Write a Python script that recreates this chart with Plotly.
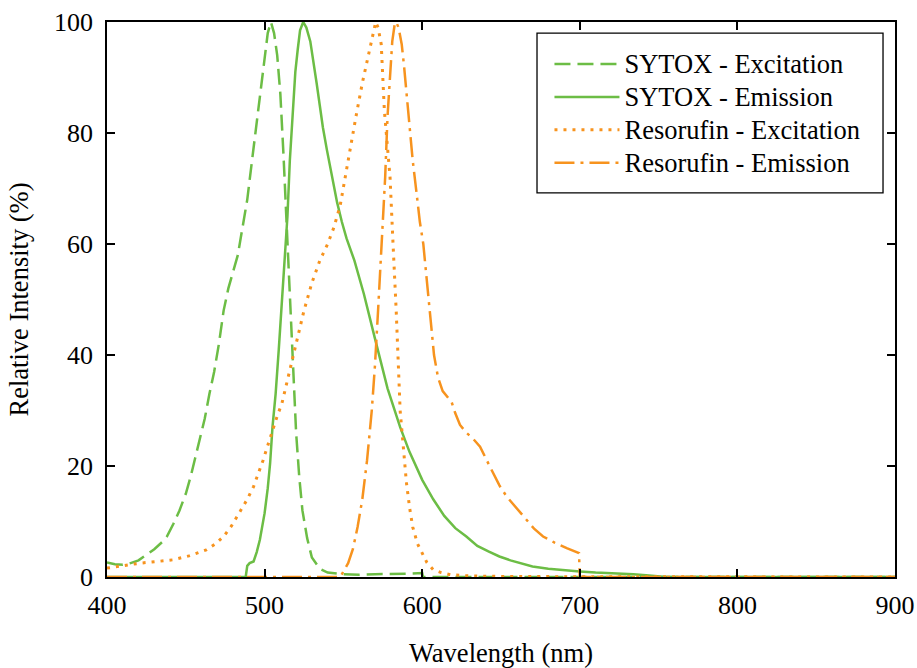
import plotly.graph_objects as go

# ---- data ----
sytox_exc_x = [400, 405, 410, 415, 420, 425, 430, 435, 438, 442, 446, 450, 453, 456, 459, 462, 465, 468, 471, 474, 477, 480, 483, 486, 489, 492, 495, 498, 500, 502, 504, 506, 508, 510, 512, 514, 516, 518, 520, 522, 524, 527, 530, 535, 540, 550, 560, 570, 580, 590, 600, 600.5, 900]
sytox_exc_y = [2.6, 2.3, 2.2, 2.5, 3.0, 4.0, 5.0, 6.3, 7.3, 9.5, 12, 15, 18, 21.5, 25, 28.5, 33, 37, 42, 48, 52, 55, 58, 63, 68, 75, 82, 89, 94, 98, 100, 98, 94, 87, 76, 63, 50, 37, 26, 18, 12, 7, 3.5, 1.5, 0.8, 0.5, 0.4, 0.5, 0.5, 0.6, 0.7, 0, 0]

sytox_em_x = [400, 488, 489, 490.5, 493, 495, 497, 499, 500, 502, 503.5, 505, 507, 509, 511, 513, 514.5, 516, 518, 519.5, 521, 522.5, 524.5, 526.5, 529, 531, 533, 535, 537, 539.5, 541.5, 543.5, 546, 549, 552, 557, 563, 570, 578, 586, 592, 600, 607, 614, 621, 628, 635, 642, 649, 656, 663, 670, 680, 690, 700, 710, 720, 734, 742, 750, 755, 900]
sytox_em_y = [0, 0, 2, 2.5, 2.8, 4.5, 6.7, 9.5, 11.5, 16, 20.5, 27, 33, 41, 50, 58, 65, 75, 85, 91, 95, 98.5, 100, 99, 96.5, 93, 89, 85, 81, 77, 74, 71, 67.5, 64, 61, 57, 51, 43, 34, 27, 22.5, 17.5, 14, 11, 8.8, 7.3, 5.6, 4.6, 3.7, 3.0, 2.4, 1.9, 1.5, 1.2, 1.0, 0.8, 0.7, 0.5, 0.3, 0.1, 0, 0]

reso_exc_x = [400, 410, 421, 432, 442, 452, 463, 469, 474, 479, 484, 489, 493, 496, 499, 502, 505, 508, 511, 515, 520, 525, 530, 535, 540, 544, 548, 551, 554, 558, 562, 566, 569, 570.5, 572, 574, 576, 578, 579.6, 581.5, 583.5, 586, 588, 590, 592, 594, 597, 600, 603, 607, 612, 618, 630, 650, 700, 900]
reso_exc_y = [1.6, 2.0, 2.5, 2.8, 3.1, 3.8, 4.9, 6.0, 7.3, 9.2, 11.5, 14, 16.3, 18.5, 21, 23.7, 26.5, 29, 31.3, 36, 42, 48, 53, 57, 60, 63, 67, 72, 77, 83, 89, 94, 98, 100, 99, 96, 84, 77, 72, 60, 48, 30, 23, 17, 12.5, 9, 6, 4.3, 2.6, 1.3, 0.8, 0.4, 0.2, 0.1, 0.05, 0]

reso_em_x = [400, 548, 550, 553, 556, 559, 562, 565, 568, 570, 572, 573.5, 575, 576.5, 578, 579.5, 581, 582.5, 583.5, 585, 587, 588.5, 590, 592, 594, 596.5, 598.5, 600.7, 602, 603.7, 605.5, 607.5, 610, 613, 618.7, 621, 624, 628, 632, 636.7, 641, 645, 649, 653.6, 660, 666, 671, 676.7, 684, 691.7, 695, 699.5, 700, 900]
reso_em_y = [0, 0, 1, 2.5, 5, 9, 14, 21, 30, 38, 48, 56, 64, 72, 83, 91, 96.5, 99.5, 100, 99, 96, 92, 87, 81, 75, 69, 64, 60, 56, 51, 45, 40, 36, 33.5, 31.5, 29.5, 27.4, 26, 25, 23.5, 21, 18.7, 16.5, 14.5, 12.3, 10.3, 8.7, 7.3, 6.2, 5.2, 4.8, 4.3, 0, 0]

series_names = ["SYTOX - Excitation", "SYTOX - Emission", "Resorufin - Excitation", "Resorufin - Emission"]
x_ticks = [400, 500, 600, 700, 800, 900]
y_ticks = [0, 20, 40, 60, 80, 100]

GREEN = "#6cbd45"
ORANGE = "#f7931e"
FONT = "Liberation Serif"
FS = 26


def leg(name):
    return '<span style="font-size:26.5px">' + name + '</span>'


fig = go.Figure()
fig.add_trace(go.Scatter(x=sytox_exc_x, y=sytox_exc_y, mode="lines", name=leg(series_names[0]),
                         line=dict(color=GREEN, width=2.5, dash="16px,7px")))
fig.add_trace(go.Scatter(x=sytox_em_x, y=sytox_em_y, mode="lines", name=leg(series_names[1]),
                         line=dict(color=GREEN, width=2.5)))
fig.add_trace(go.Scatter(x=reso_exc_x, y=reso_exc_y, mode="lines", name=leg(series_names[2]),
                         line=dict(color=ORANGE, width=3, dash="3px,6px")))
fig.add_trace(go.Scatter(x=reso_em_x, y=reso_em_y, mode="lines", name=leg(series_names[3]),
                         line=dict(color=ORANGE, width=2.5, dash="20px,6px,3px,6px")))

axis_common = dict(showgrid=False, zeroline=False, showline=True, linecolor="black", linewidth=1.5,
                   mirror="ticks", ticks="inside", ticklen=8, tickwidth=1.5, tickcolor="black",
                   automargin=False,
                   tickfont=dict(family=FONT, size=FS, color="black"))

fig.update_layout(
    width=917, height=668,
    margin=dict(l=107, r=22, t=22, b=91),
    paper_bgcolor="white", plot_bgcolor="white",
    font=dict(family=FONT, size=FS, color="black"),
    showlegend=True,
    legend=dict(x=0.5615, y=0.963, xanchor="left", yanchor="top",
                borderwidth=0, bgcolor="rgba(0,0,0,0)",
                font=dict(family=FONT, size=23, color="black"),
                itemwidth=65, tracegroupgap=0),
    shapes=[dict(type="rect", xref="paper", yref="paper", x0=0.5457, x1=0.9848, y0=0.692, y1=0.980,
                 line=dict(color="black", width=1.3), fillcolor="white", layer="below")],
    xaxis=dict(range=[400, 900], tickvals=x_ticks, ticklabelstandoff=4,
               title=dict(text="Wavelength (nm)", font=dict(family=FONT, size=26.5), standoff=24),
               **axis_common),
    yaxis=dict(range=[0, 100], tickvals=y_ticks, ticklabelstandoff=7,
               title=dict(text="Relative Intensity (%)", font=dict(family=FONT, size=26.5), standoff=18),
               **axis_common),
)

fig.write_html("out.html", config={"displayModeBar": False},
               post_script="document.body.style.margin='0';document.body.style.overflow='hidden';")
